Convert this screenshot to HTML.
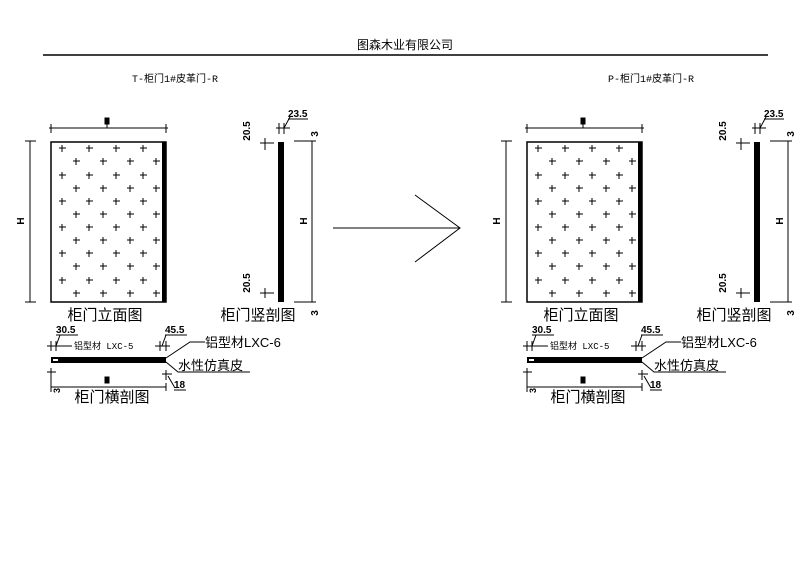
<!DOCTYPE html>
<html><head><meta charset="utf-8"><style>
html,body{margin:0;padding:0;background:#fff;width:800px;height:584px;overflow:hidden}
text{font-family:"Liberation Sans","Noto Sans CJK SC",sans-serif;fill:#000}
.m{font-family:"Liberation Mono","Noto Sans CJK SC",monospace}
</style></head><body>
<svg width="800" height="584" viewBox="0 0 800 584" xmlns="http://www.w3.org/2000/svg">
<line x1="43" y1="55" x2="768" y2="55" stroke="#000" stroke-width="1.5"/>
<text x="405" y="49" font-size="12" text-anchor="middle">图森木业有限公司</text>
<line x1="333" y1="228" x2="460" y2="228" stroke="#000" stroke-width="1"/>
<polyline points="415,195 460,228 415,262" fill="none" stroke="#000" stroke-width="1"/>

<g id="A" stroke="#000" fill="none" stroke-width="1">
<text class="m" x="175" y="82" font-size="10" text-anchor="middle" stroke="none">T-柜门1#皮革门-R</text>
<!-- W dim -->
<line x1="49" y1="128" x2="168" y2="128"/>
<line x1="51" y1="124" x2="51" y2="133"/><line x1="166" y1="124" x2="166" y2="133"/>
<rect x="105" y="118" width="4" height="6" fill="#000"/><line x1="107" y1="124" x2="107" y2="128"/>
<!-- door -->
<rect x="51" y="142" width="115" height="160" stroke-width="1.5"/>
<rect x="162" y="142" width="4" height="160" fill="#000" stroke="none"/>
<!-- H dim -->
<line x1="30" y1="141" x2="30" y2="302"/>
<line x1="25" y1="141" x2="36" y2="141"/><line x1="25" y1="302" x2="36" y2="302"/>
<text x="24" y="221" font-size="10" font-weight="bold" stroke="none" transform="rotate(-90 24 221)" text-anchor="middle">H</text>
<!-- pluses -->
<path d="M59 148h7M62 145v7M86 148h7M89 145v7M113 148h7M116 145v7M140 148h7M143 145v7
M73 161h7M76 158v7M100 161h7M103 158v7M127 161h7M130 158v7M153 161h7M156 158v7
M59 175h7M62 172v7M86 175h7M89 172v7M113 175h7M116 172v7M140 175h7M143 172v7
M73 188h7M76 185v7M100 188h7M103 185v7M127 188h7M130 185v7M153 188h7M156 185v7
M59 201h7M62 198v7M86 201h7M89 198v7M113 201h7M116 198v7M140 201h7M143 198v7
M73 214h7M76 211v7M100 214h7M103 211v7M127 214h7M130 211v7M153 214h7M156 211v7
M59 227h7M62 224v7M86 227h7M89 224v7M113 227h7M116 224v7M140 227h7M143 224v7
M73 240h7M76 237v7M100 240h7M103 237v7M127 240h7M130 237v7M153 240h7M156 237v7
M59 253h7M62 250v7M86 253h7M89 250v7M113 253h7M116 250v7M140 253h7M143 250v7
M73 266h7M76 263v7M100 266h7M103 263v7M127 266h7M130 263v7M153 266h7M156 263v7
M59 280h7M62 277v7M86 280h7M89 277v7M113 280h7M116 277v7M140 280h7M143 277v7
M73 293h7M76 290v7M100 293h7M103 290v7M127 293h7M130 290v7M153 293h7M156 290v7"/>
<text x="105" y="320" font-size="15" text-anchor="middle" stroke="none">柜门立面图</text>
<!-- vertical section -->
<rect x="278" y="142" width="6" height="160" fill="#000" stroke="none"/>
<line x1="312" y1="141" x2="312" y2="302"/>
<line x1="294" y1="141" x2="316" y2="141"/><line x1="294" y1="302" x2="316" y2="302"/>
<text x="307" y="221" font-size="10" font-weight="bold" stroke="none" transform="rotate(-90 307 221)" text-anchor="middle">H</text>
<line x1="260" y1="143" x2="274" y2="143"/><line x1="265" y1="138" x2="265" y2="150"/>
<line x1="260" y1="293" x2="274" y2="293"/><line x1="265" y1="288" x2="265" y2="298"/>
<line x1="276" y1="128" x2="290" y2="128"/><line x1="279" y1="123" x2="279" y2="134"/><line x1="284" y1="123" x2="284" y2="134"/>
<line x1="284" y1="128" x2="290" y2="117"/>
<text x="250" y="131" font-size="10" font-weight="bold" stroke="none" transform="rotate(-90 250 131)" text-anchor="middle">20.5</text>
<text x="250" y="283" font-size="10" font-weight="bold" stroke="none" transform="rotate(-90 250 283)" text-anchor="middle">20.5</text>
<text x="288" y="117" font-size="10" font-weight="bold" stroke="none">23.5</text>
<line x1="288" y1="119" x2="308" y2="119"/>
<text x="318" y="134" font-size="10" font-weight="bold" stroke="none" transform="rotate(-90 318 134)" text-anchor="middle">3</text>
<text x="318" y="313" font-size="10" font-weight="bold" stroke="none" transform="rotate(-90 318 313)" text-anchor="middle">3</text>
<text x="258" y="320" font-size="15" text-anchor="middle" stroke="none">柜门竖剖图</text>
<!-- horizontal section -->
<rect x="51" y="357" width="115" height="6" fill="#000" stroke="none"/>
<rect x="53" y="359" width="5" height="2" fill="#fff" stroke="none"/>
<line x1="47" y1="346" x2="62" y2="346"/><line x1="51" y1="341" x2="51" y2="351"/><line x1="56" y1="341" x2="56" y2="351"/>
<line x1="56" y1="346" x2="60" y2="335"/>
<text x="56" y="333" font-size="10" font-weight="bold" stroke="none">30.5</text>
<line x1="56" y1="335" x2="78" y2="335"/>
<line x1="60" y1="346" x2="72" y2="346"/>
<text x="74" y="349" font-size="9" stroke="none" class="m">铝型材 LXC-5</text>
<line x1="155" y1="346" x2="170" y2="346"/><line x1="160" y1="341" x2="160" y2="351"/><line x1="166" y1="341" x2="166" y2="351"/>
<line x1="162" y1="346" x2="166" y2="335"/>
<text x="165" y="333" font-size="10" font-weight="bold" stroke="none">45.5</text>
<line x1="165" y1="335" x2="187" y2="335"/>
<polyline points="166,358 190,342 205,342"/>
<text x="205" y="347" font-size="13" stroke="none">铝型材LXC-6</text>
<polyline points="166,362 178,372 250,372"/>
<text x="178" y="370" font-size="13" stroke="none">水性仿真皮</text>
<line x1="51" y1="387" x2="166" y2="387"/>
<line x1="51" y1="383" x2="51" y2="391"/><line x1="166" y1="383" x2="166" y2="391"/>
<rect x="105" y="377" width="4" height="6" fill="#000"/>
<line x1="47" y1="372" x2="56" y2="372"/><line x1="51" y1="368" x2="51" y2="392"/>
<text x="57" y="396" font-size="9" font-weight="bold" stroke="none" transform="rotate(-90 57 393)">3</text>
<line x1="162" y1="374" x2="172" y2="374"/><line x1="166" y1="370" x2="166" y2="380"/>
<line x1="168" y1="376" x2="175" y2="388"/>
<text x="174" y="388" font-size="10" font-weight="bold" stroke="none">18</text>
<line x1="174" y1="390" x2="186" y2="390"/>
<text x="112" y="402" font-size="15" text-anchor="middle" stroke="none">柜门横剖图</text>
</g>

<g transform="translate(476 0)" stroke="#000" fill="none" stroke-width="1">
<text class="m" x="175" y="82" font-size="10" text-anchor="middle" stroke="none">P-柜门1#皮革门-R</text>
<line x1="49" y1="128" x2="168" y2="128"/>
<line x1="51" y1="124" x2="51" y2="133"/><line x1="166" y1="124" x2="166" y2="133"/>
<rect x="105" y="118" width="4" height="6" fill="#000"/><line x1="107" y1="124" x2="107" y2="128"/>
<rect x="51" y="142" width="115" height="160" stroke-width="1.5"/>
<rect x="162" y="142" width="4" height="160" fill="#000" stroke="none"/>
<line x1="30" y1="141" x2="30" y2="302"/>
<line x1="25" y1="141" x2="36" y2="141"/><line x1="25" y1="302" x2="36" y2="302"/>
<text x="24" y="221" font-size="10" font-weight="bold" stroke="none" transform="rotate(-90 24 221)" text-anchor="middle">H</text>
<path d="M59 148h7M62 145v7M86 148h7M89 145v7M113 148h7M116 145v7M140 148h7M143 145v7
M73 161h7M76 158v7M100 161h7M103 158v7M127 161h7M130 158v7M153 161h7M156 158v7
M59 175h7M62 172v7M86 175h7M89 172v7M113 175h7M116 172v7M140 175h7M143 172v7
M73 188h7M76 185v7M100 188h7M103 185v7M127 188h7M130 185v7M153 188h7M156 185v7
M59 201h7M62 198v7M86 201h7M89 198v7M113 201h7M116 198v7M140 201h7M143 198v7
M73 214h7M76 211v7M100 214h7M103 211v7M127 214h7M130 211v7M153 214h7M156 211v7
M59 227h7M62 224v7M86 227h7M89 224v7M113 227h7M116 224v7M140 227h7M143 224v7
M73 240h7M76 237v7M100 240h7M103 237v7M127 240h7M130 237v7M153 240h7M156 237v7
M59 253h7M62 250v7M86 253h7M89 250v7M113 253h7M116 250v7M140 253h7M143 250v7
M73 266h7M76 263v7M100 266h7M103 263v7M127 266h7M130 263v7M153 266h7M156 263v7
M59 280h7M62 277v7M86 280h7M89 277v7M113 280h7M116 277v7M140 280h7M143 277v7
M73 293h7M76 290v7M100 293h7M103 290v7M127 293h7M130 290v7M153 293h7M156 290v7"/>
<text x="105" y="320" font-size="15" text-anchor="middle" stroke="none">柜门立面图</text>
<rect x="278" y="142" width="6" height="160" fill="#000" stroke="none"/>
<line x1="312" y1="141" x2="312" y2="302"/>
<line x1="294" y1="141" x2="316" y2="141"/><line x1="294" y1="302" x2="316" y2="302"/>
<text x="307" y="221" font-size="10" font-weight="bold" stroke="none" transform="rotate(-90 307 221)" text-anchor="middle">H</text>
<line x1="260" y1="143" x2="274" y2="143"/><line x1="265" y1="138" x2="265" y2="150"/>
<line x1="260" y1="293" x2="274" y2="293"/><line x1="265" y1="288" x2="265" y2="298"/>
<line x1="276" y1="128" x2="290" y2="128"/><line x1="279" y1="123" x2="279" y2="134"/><line x1="284" y1="123" x2="284" y2="134"/>
<line x1="284" y1="128" x2="290" y2="117"/>
<text x="250" y="131" font-size="10" font-weight="bold" stroke="none" transform="rotate(-90 250 131)" text-anchor="middle">20.5</text>
<text x="250" y="283" font-size="10" font-weight="bold" stroke="none" transform="rotate(-90 250 283)" text-anchor="middle">20.5</text>
<text x="288" y="117" font-size="10" font-weight="bold" stroke="none">23.5</text>
<line x1="288" y1="119" x2="308" y2="119"/>
<text x="318" y="134" font-size="10" font-weight="bold" stroke="none" transform="rotate(-90 318 134)" text-anchor="middle">3</text>
<text x="318" y="313" font-size="10" font-weight="bold" stroke="none" transform="rotate(-90 318 313)" text-anchor="middle">3</text>
<text x="258" y="320" font-size="15" text-anchor="middle" stroke="none">柜门竖剖图</text>
<rect x="51" y="357" width="115" height="6" fill="#000" stroke="none"/>
<rect x="53" y="359" width="5" height="2" fill="#fff" stroke="none"/>
<line x1="47" y1="346" x2="62" y2="346"/><line x1="51" y1="341" x2="51" y2="351"/><line x1="56" y1="341" x2="56" y2="351"/>
<line x1="56" y1="346" x2="60" y2="335"/>
<text x="56" y="333" font-size="10" font-weight="bold" stroke="none">30.5</text>
<line x1="56" y1="335" x2="78" y2="335"/>
<line x1="60" y1="346" x2="72" y2="346"/>
<text x="74" y="349" font-size="9" stroke="none" class="m">铝型材 LXC-5</text>
<line x1="155" y1="346" x2="170" y2="346"/><line x1="160" y1="341" x2="160" y2="351"/><line x1="166" y1="341" x2="166" y2="351"/>
<line x1="162" y1="346" x2="166" y2="335"/>
<text x="165" y="333" font-size="10" font-weight="bold" stroke="none">45.5</text>
<line x1="165" y1="335" x2="187" y2="335"/>
<polyline points="166,358 190,342 205,342"/>
<text x="205" y="347" font-size="13" stroke="none">铝型材LXC-6</text>
<polyline points="166,362 178,372 250,372"/>
<text x="178" y="370" font-size="13" stroke="none">水性仿真皮</text>
<line x1="51" y1="387" x2="166" y2="387"/>
<line x1="51" y1="383" x2="51" y2="391"/><line x1="166" y1="383" x2="166" y2="391"/>
<rect x="105" y="377" width="4" height="6" fill="#000"/>
<line x1="47" y1="372" x2="56" y2="372"/><line x1="51" y1="368" x2="51" y2="392"/>
<text x="57" y="396" font-size="9" font-weight="bold" stroke="none" transform="rotate(-90 57 393)">3</text>
<line x1="162" y1="374" x2="172" y2="374"/><line x1="166" y1="370" x2="166" y2="380"/>
<line x1="168" y1="376" x2="175" y2="388"/>
<text x="174" y="388" font-size="10" font-weight="bold" stroke="none">18</text>
<line x1="174" y1="390" x2="186" y2="390"/>
<text x="112" y="402" font-size="15" text-anchor="middle" stroke="none">柜门横剖图</text>
</g>
</svg>
</body></html>
